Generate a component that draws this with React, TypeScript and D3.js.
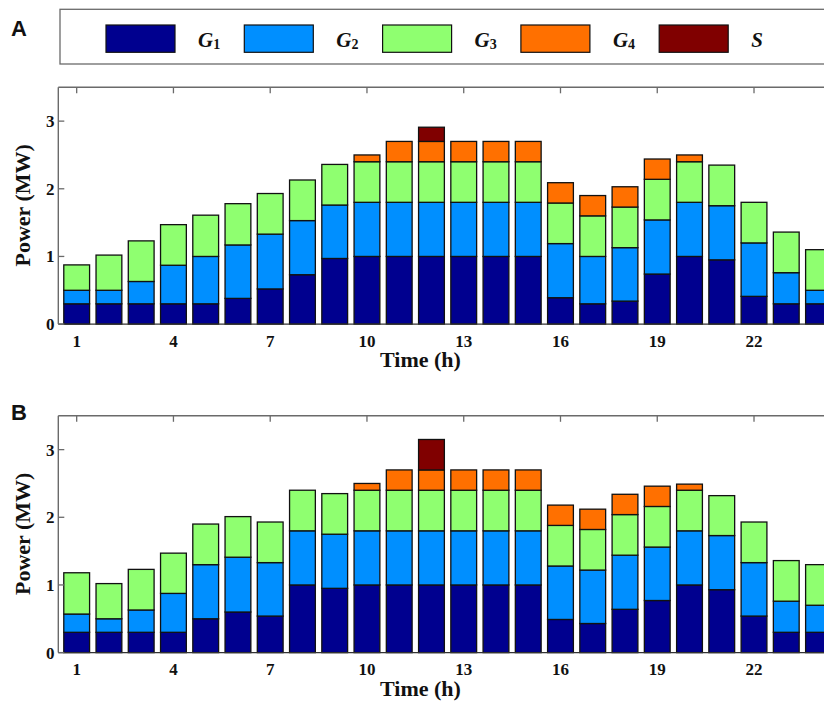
import React from "react";
import * as d3 from "d3";

const hours = d3.range(1, 25);
const seriesKeys = ["G1", "G2", "G3", "G4", "S"];
const seriesColors = ["#00008F", "#008FFF", "#8FFF70", "#FF7000", "#800000"];
const legendSubs = ["1", "2", "3", "4", ""];
const xTickValues = [1, 4, 7, 10, 13, 16, 19, 22];
const yTickValues = [0, 1, 2, 3];

// Panel A component values (MW)
const g1A = [0.30, 0.30, 0.30, 0.30, 0.30, 0.38, 0.52, 0.73, 0.97, 1.0, 1.0, 1.0, 1.0, 1.0, 1.0, 0.39, 0.30, 0.34, 0.74, 1.0, 0.95, 0.41, 0.30, 0.30];
const g2A = [0.20, 0.20, 0.33, 0.57, 0.70, 0.79, 0.81, 0.80, 0.79, 0.80, 0.80, 0.80, 0.80, 0.80, 0.80, 0.80, 0.70, 0.79, 0.80, 0.80, 0.80, 0.79, 0.46, 0.20];
const g3A = [0.375, 0.52, 0.60, 0.60, 0.61, 0.61, 0.60, 0.60, 0.60, 0.60, 0.60, 0.60, 0.60, 0.60, 0.60, 0.60, 0.60, 0.60, 0.60, 0.60, 0.60, 0.60, 0.60, 0.60];
const g4A = [0, 0, 0, 0, 0, 0, 0, 0, 0, 0.10, 0.30, 0.30, 0.30, 0.30, 0.30, 0.30, 0.30, 0.30, 0.30, 0.10, 0, 0, 0, 0];
const sA = [0, 0, 0, 0, 0, 0, 0, 0, 0, 0, 0, 0.21, 0, 0, 0, 0, 0, 0, 0, 0, 0, 0, 0, 0];

// Panel B component values (MW)
const g1B = [0.30, 0.30, 0.30, 0.30, 0.50, 0.60, 0.54, 1.0, 0.95, 1.0, 1.0, 1.0, 1.0, 1.0, 1.0, 0.49, 0.43, 0.64, 0.77, 1.0, 0.93, 0.54, 0.30, 0.30];
const g2B = [0.27, 0.20, 0.33, 0.575, 0.80, 0.81, 0.79, 0.80, 0.80, 0.80, 0.80, 0.80, 0.80, 0.80, 0.80, 0.79, 0.79, 0.80, 0.79, 0.80, 0.80, 0.79, 0.46, 0.40];
const g3B = [0.61, 0.52, 0.60, 0.595, 0.60, 0.60, 0.60, 0.60, 0.60, 0.60, 0.60, 0.60, 0.60, 0.60, 0.60, 0.60, 0.60, 0.60, 0.60, 0.60, 0.59, 0.60, 0.60, 0.60];
const g4B = [0, 0, 0, 0, 0, 0, 0, 0, 0, 0.10, 0.30, 0.30, 0.30, 0.30, 0.30, 0.30, 0.30, 0.30, 0.30, 0.09, 0, 0, 0, 0];
const sB = [0, 0, 0, 0, 0, 0, 0, 0, 0, 0, 0, 0.45, 0, 0, 0, 0, 0, 0, 0, 0, 0, 0, 0, 0];

const panelLetters = ["A", "B"];
const xLabel = "Time (h)";
const yLabel = "Power (MW)";

function buildRows(g1: number[], g2: number[], g3: number[], g4: number[], s: number[]) {
  return hours.map((h, i) => ({ hour: h, G1: g1[i], G2: g2[i], G3: g3[i], G4: g4[i], S: s[i] }));
}

const panelData = [buildRows(g1A, g2A, g3A, g4A, sA), buildRows(g1B, g2B, g3B, g4B, sB)];

const serif = "'Liberation Serif', 'Times New Roman', serif";
const sans = "'Liberation Sans', Arial, sans-serif";
const frameColor = "#6a6a6a";

function Panel({ rows, top, letter, letterY }: { rows: any[]; top: number; letter: string; letterY: number }) {
  const plotLeft = 58.3;
  const plotTop = top;
  const plotBottom = top + 236.8;
  const x = d3.scaleLinear().domain([0.43, 24.57]).range([plotLeft, 836.9]);
  const y = d3.scaleLinear().domain([0, 3.5]).range([plotBottom, plotTop]);
  const bw = (x(1.8) - x(1.0));
  const stacked = d3.stack().keys(seriesKeys)(rows as any);
  const tickLen = 6;
  return (
    <g>
      <text x={11} y={letterY} fontFamily={sans} fontWeight="bold" fontSize={22} fill="#111">{letter}</text>
      {/* bottom ticks (hidden behind bars) */}
      {xTickValues.map((t) => (
        <line key={"bt" + t} x1={x(t)} x2={x(t)} y1={plotBottom} y2={plotBottom - tickLen} stroke={frameColor} strokeWidth={1.3} />
      ))}
      {/* bars */}
      {stacked.map((layer, li) => (
        <g key={seriesKeys[li]}>
          {layer.map((d: any, i: number) => {
            const v = d[1] - d[0];
            if (v <= 0) return null;
            return (
              <rect
                key={i}
                x={x(rows[i].hour) - bw / 2}
                y={y(d[1])}
                width={bw}
                height={y(d[0]) - y(d[1])}
                fill={seriesColors[li]}
                stroke="#111"
                strokeWidth={1.3}
              />
            );
          })}
        </g>
      ))}
      {/* frame */}
      <line x1={plotLeft} x2={840} y1={plotTop} y2={plotTop} stroke={frameColor} strokeWidth={1.4} />
      <line x1={plotLeft} x2={840} y1={plotBottom} y2={plotBottom} stroke="#333" strokeWidth={1.4} />
      <line x1={plotLeft} x2={plotLeft} y1={plotTop} y2={plotBottom} stroke={frameColor} strokeWidth={1.4} />
      {/* top ticks */}
      {xTickValues.map((t) => (
        <line key={"tt" + t} x1={x(t)} x2={x(t)} y1={plotTop} y2={plotTop + tickLen} stroke={frameColor} strokeWidth={1.3} />
      ))}
      {/* y ticks */}
      {yTickValues.map((t) => (
        <line key={"yt" + t} x1={plotLeft} x2={plotLeft + tickLen} y1={y(t)} y2={y(t)} stroke={frameColor} strokeWidth={1.3} />
      ))}
      {/* x tick labels */}
      {xTickValues.map((t) => (
        <text key={"xl" + t} x={x(t)} y={plotBottom + 22.7} textAnchor="middle" fontFamily={serif} fontWeight="bold" fontSize={17} fill="#111">
          {t}
        </text>
      ))}
      {/* y tick labels */}
      {yTickValues.map((t) => (
        <text key={"yl" + t} x={54.5} y={y(t) + 6} textAnchor="end" fontFamily={serif} fontWeight="bold" fontSize={17} fill="#111">
          {t}
        </text>
      ))}
      <text x={420.5} y={plotBottom + 43.3} textAnchor="middle" fontFamily={serif} fontWeight="bold" fontSize={22} fill="#111">
        {xLabel}
      </text>
      <text
        transform={`translate(29.5, ${plotTop + 118}) rotate(-90)`}
        textAnchor="middle"
        fontFamily={serif}
        fontWeight="bold"
        fontSize={22}
        fill="#111"
      >
        {yLabel}
      </text>
    </g>
  );
}

function Legend() {
  const startX = 106;
  const step = 138.3;
  return (
    <g>
      <rect x={60} y={9.3} width={800} height={54.7} fill="#fff" stroke={frameColor} strokeWidth={1.3} />
      {seriesKeys.map((k, i) => {
        const sx = startX + i * step;
        return (
          <g key={k}>
            <rect x={sx} y={25} width={69} height={27.3} fill={seriesColors[i]} stroke="#111" strokeWidth={1.2} />
            <text x={sx + 92} y={46.5} fontFamily={serif} fontSize={21} fill="#111">
              <tspan fontStyle="italic" fontWeight="bold">{k.charAt(0)}</tspan>
              {legendSubs[i] ? (
                <tspan fontSize={14} fontWeight="bold" dy={2.5}>{legendSubs[i]}</tspan>
              ) : null}
            </text>
          </g>
        );
      })}
    </g>
  );
}

export default function App() {
  return (
    <svg
      width={824}
      height={708}
      style={{ position: "absolute", left: 0, top: 0, background: "#fff", overflow: "hidden" }}
    >
      <rect x={0} y={0} width={824} height={708} fill="#fff" />
      <Legend />
      <Panel rows={panelData[0]} top={87.3} letter={panelLetters[0]} letterY={36} />
      <Panel rows={panelData[1]} top={415.8} letter={panelLetters[1]} letterY={420} />
    </svg>
  );
}
